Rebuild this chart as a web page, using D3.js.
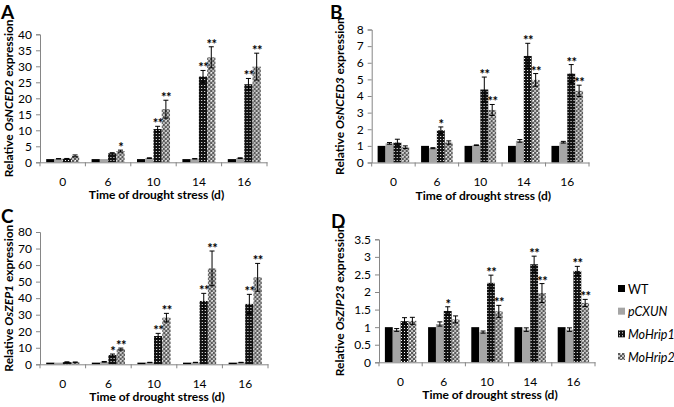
<!DOCTYPE html>
<html>
<head>
<meta charset="utf-8">
<script src="https://cdn.jsdelivr.net/npm/d3@7"></script>
<style>
  body { margin: 0; background: #fff; }
  text { font-family: Lato, "Open Sans", sans-serif; }
</style>
</head>
<body>
<div id="chart"></div>
<script>
const days = ["0", "6", "10", "14", "16"];
const series = ["WT", "pCXUN", "MoHrip1", "MoHrip2"];

// mean values, one row per day: WT, pCXUN, MoHrip1, MoHrip2
const nced2Values = [[1, 1.1, 1.1, 2.0], [1, 1.0, 2.8, 3.5], [1, 1.3, 10.4, 16.6], [1, 1.1, 26.8, 32.8], [1, 1.3, 24.4, 29.9]];
const nced2Errors = [[0, 0.05, 0.1, 0.3], [0, 0, 0.2, 0.3], [0, 0.1, 0.85, 2.8], [0, 0.05, 1.9, 3.3], [0, 0.1, 1.8, 4.2]];
const nced2Stars = [["", "", "", ""], ["", "", "", "*"], ["", "", "**", "**"], ["", "", "**", "**"], ["", "", "**", "**"]];

const nced3Values = [[1, 1.15, 1.2, 0.92], [1, 0.86, 1.94, 1.2], [1, 1.04, 4.39, 3.16], [1, 1.3, 6.41, 4.97], [1, 1.22, 5.35, 4.31]];
const nced3Errors = [[0, 0.05, 0.2, 0.08], [0, 0.03, 0.2, 0.1], [0, 0.02, 0.75, 0.33], [0, 0.08, 0.76, 0.38], [0, 0.05, 0.54, 0.34]];
const nced3Stars = [["", "", "", ""], ["", "", "*", ""], ["", "", "**", "**"], ["", "", "**", "**"], ["", "", "**", "**"]];

const zep1Values = [[1, 1, 1.3, 1.2], [1, 1.5, 5.6, 9.2], [1, 1.1, 17.1, 28.2], [1, 1.1, 38.3, 58.0], [1, 1.1, 36.5, 52.6]];
const zep1Errors = [[0, 0, 0.2, 0.2], [0, 0.2, 0.6, 0.6], [0, 0.1, 1.6, 2.6], [0, 0.1, 4.6, 10.5], [0, 0.1, 5.8, 8.4]];
const zep1Stars = [["", "", "", ""], ["", "", "*", "**"], ["", "", "**", "**"], ["", "", "**", "**"], ["", "", "**", "**"]];

const zip23Values = [[1, 0.92, 1.17, 1.18], [1, 1.09, 1.46, 1.22], [1, 0.86, 2.26, 1.45], [1, 0.93, 2.79, 1.97], [1, 0.93, 2.6, 1.69]];
const zip23Errors = [[0, 0.04, 0.1, 0.1], [0, 0.06, 0.12, 0.1], [0, 0.03, 0.22, 0.17], [0, 0.05, 0.23, 0.27], [0, 0.05, 0.13, 0.1]];
const zip23Stars = [["", "", "", ""], ["", "", "*", ""], ["", "", "**", "**"], ["", "", "**", "**"], ["", "", "**", "**"]];

const svg = d3.select("#chart").append("svg")
  .attr("width", 674).attr("height", 407);

// bar fills
const defs = svg.append("defs");
const p1 = defs.append("pattern").attr("id", "pat-hrip1")
  .attr("width", 3).attr("height", 3).attr("patternUnits", "userSpaceOnUse");
p1.append("rect").attr("width", 3).attr("height", 3).attr("fill", "#111");
p1.append("rect").attr("x", 1).attr("y", 1).attr("width", 1).attr("height", 1).attr("fill", "#fff");

const p2 = defs.append("pattern").attr("id", "pat-hrip2")
  .attr("width", 4).attr("height", 4).attr("patternUnits", "userSpaceOnUse");
p2.append("rect").attr("width", 4).attr("height", 4).attr("fill", "#bdbdbd");
p2.append("rect").attr("x", 0).attr("y", 0).attr("width", 2).attr("height", 2).attr("fill", "#5a5a5a");
p2.append("rect").attr("x", 2).attr("y", 2).attr("width", 2).attr("height", 2).attr("fill", "#5a5a5a");
p2.append("rect").attr("x", 3).attr("y", 0).attr("width", 1).attr("height", 1).attr("fill", "#fff");

const fills = { "WT": "#000", "pCXUN": "#a5a5a5", "MoHrip1": "url(#pat-hrip1)", "MoHrip2": "url(#pat-hrip2)" };
const axisColor = "#868686";

function drawPanel(p) {
  const g = svg.append("g");

  const x = d3.scaleBand().domain(days).range([p.left, p.right]).paddingInner(0).paddingOuter(0);
  const xs = d3.scaleBand().domain(series).range([0, x.bandwidth()]).paddingInner(0).paddingOuter(0.75);
  const y = d3.scaleLinear().domain([0, p.max]).range([p.bottom, p.top]);

  const groups = g.selectAll("g.day").data(days).join("g")
    .attr("transform", d => `translate(${x(d)},0)`);

  groups.each(function (day, di) {
    const grp = d3.select(this);
    const rows = series.map((s, si) => ({ s, v: p.values[di][si], e: p.errors[di][si], star: p.stars[di][si] }));

    grp.selectAll("rect").data(rows).join("rect")
      .attr("x", d => xs(d.s))
      .attr("y", d => y(d.v))
      .attr("width", xs.bandwidth())
      .attr("height", d => y(0) - y(d.v))
      .attr("fill", d => fills[d.s]);

    const cx = d => xs(d.s) + xs.bandwidth() / 2;
    const eb = grp.selectAll("g.err").data(rows.filter(d => d.e > 0)).join("g")
      .attr("stroke", "#000").attr("stroke-width", 1);
    eb.append("line")
      .attr("x1", cx).attr("x2", cx)
      .attr("y1", d => y(d.v - d.e)).attr("y2", d => y(d.v + d.e));
    eb.append("line")
      .attr("x1", d => cx(d) - 2.5).attr("x2", d => cx(d) + 2.5)
      .attr("y1", d => y(d.v + d.e)).attr("y2", d => y(d.v + d.e));
    eb.append("line")
      .attr("x1", d => cx(d) - 2.5).attr("x2", d => cx(d) + 2.5)
      .attr("y1", d => y(d.v - d.e)).attr("y2", d => y(d.v - d.e));

    // significance stars, one glyph each
    const starGlyphs = [];
    rows.filter(d => d.star).forEach(d => {
      const n = d.star.length;
      for (let i = 0; i < n; i++) {
        starGlyphs.push({ x: cx(d) + 0.5 + (i - (n - 1) / 2) * 5, y: y(d.v + d.e) + 2 });
      }
    });
    grp.selectAll("text.star").data(starGlyphs).join("text")
      .attr("class", "star")
      .attr("x", d => d.x)
      .attr("y", d => d.y)
      .attr("text-anchor", "middle")
      .attr("font-size", 13)
      .attr("font-weight", "bold")
      .text("*");
  });

  // y axis
  const yAxis = g.append("g").attr("transform", `translate(${p.left},0)`)
    .call(d3.axisLeft(y).tickValues(p.ticks).tickSize(4).tickPadding(4).tickFormat(d => d));
  yAxis.select(".domain").attr("stroke", axisColor);
  yAxis.selectAll(".tick line").attr("stroke", axisColor);
  yAxis.selectAll(".tick text").attr("font-size", 12).attr("fill", "#000")
    .attr("font-family", "Lato, sans-serif");

  // x axis
  const xAxis = g.append("g").attr("transform", `translate(0,${p.bottom})`)
    .call(d3.axisBottom(x).tickSize(0).tickPadding(15));
  xAxis.select(".domain").attr("stroke", axisColor);
  xAxis.selectAll(".tick text").attr("font-size", 12).attr("fill", "#000")
    .attr("font-family", "Lato, sans-serif");
  const bounds = days.map(d => x(d)).concat([x(days[days.length - 1]) + x.bandwidth()]);
  xAxis.selectAll("line.sep").data(bounds).join("line")
    .attr("class", "sep")
    .attr("x1", d => d).attr("x2", d => d)
    .attr("y1", 0).attr("y2", 4)
    .attr("stroke", axisColor);

  g.append("text")
    .attr("x", (p.left + p.right) / 2 + 3)
    .attr("y", p.bottom + 37)
    .attr("text-anchor", "middle")
    .attr("font-size", 12)
    .attr("font-weight", "bold")
    .text("Time of drought stress (d)");

  const yl = g.append("text")
    .attr("transform", `translate(${p.ylabelX},${(p.top + p.bottom) / 2}) rotate(-90)`)
    .attr("text-anchor", "middle")
    .attr("font-size", 12)
    .attr("font-weight", "bold");
  yl.append("tspan").text("Relative ");
  yl.append("tspan").attr("font-style", "italic").text(p.gene);
  yl.append("tspan").text(" expression");

  g.append("text")
    .attr("x", p.letterX).attr("y", p.letterY)
    .attr("font-family", "Liberation Sans, Arial, sans-serif")
    .attr("font-size", 19)
    .attr("font-weight", "bold")
    .text(p.letter);
}

drawPanel({ letter: "A", letterX: 1, letterY: 19, gene: "OsNCED2", left: 40, right: 267, top: 34.3, bottom: 162.3, max: 40,
  ticks: d3.range(0, 41, 5), values: nced2Values, errors: nced2Errors, stars: nced2Stars, ylabelX: 13 });
drawPanel({ letter: "B", letterX: 330, letterY: 19, gene: "OsNCED3", left: 371.7, right: 589, top: 29.5, bottom: 162.5, max: 8,
  ticks: d3.range(0, 9, 1), values: nced3Values, errors: nced3Errors, stars: nced3Stars, ylabelX: 344 });
drawPanel({ letter: "C", letterX: 1, letterY: 223, gene: "OsZEP1", left: 40, right: 268, top: 232, bottom: 364.3, max: 80,
  ticks: d3.range(0, 81, 10), values: zep1Values, errors: zep1Errors, stars: zep1Stars, ylabelX: 13 });
drawPanel({ letter: "D", letterX: 331, letterY: 228, gene: "OsZIP23", left: 379, right: 595, top: 239.3, bottom: 362.3, max: 3.5,
  ticks: d3.range(0, 3.51, 0.5), values: zip23Values, errors: zip23Errors, stars: zip23Stars, ylabelX: 344 });

// legend
const legendY = d3.scalePoint().domain(series).range([289, 357]);
const lg = svg.append("g").selectAll("g").data(series).join("g")
  .attr("transform", d => `translate(618,${legendY(d)})`);
lg.append("rect").attr("x", 0).attr("y", -4).attr("width", 7).attr("height", 7)
  .attr("fill", d => fills[d]);
lg.append("text").attr("x", 10).attr("y", 4.5).attr("font-size", 12.5)
  .attr("font-style", d => d === "WT" ? "normal" : "italic")
  .text(d => d);
</script>
</body>
</html>
